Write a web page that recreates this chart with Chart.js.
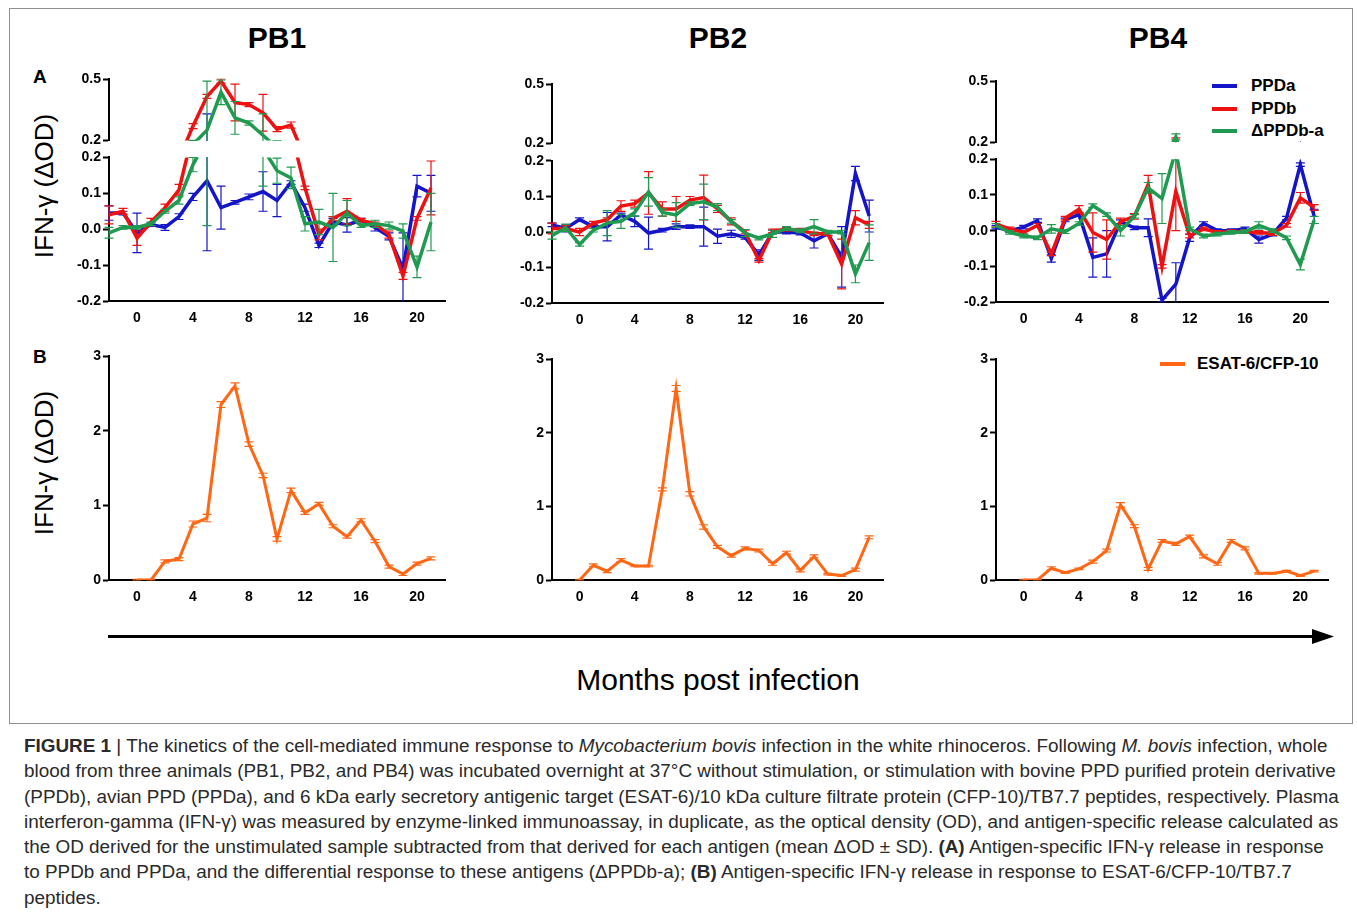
<!DOCTYPE html>
<html>
<head>
<meta charset="utf-8">
<script src="https://cdn.jsdelivr.net/npm/chart.js@4.4.1/dist/chart.umd.min.js"></script>
<style>
  body { margin: 0; background: #fff; width: 1357px; height: 914px; position: relative; overflow: hidden;
         font-family: "Liberation Sans", Arial, sans-serif; color: #000; }
  .abs { position: absolute; white-space: nowrap; }
  .frame { left: 9px; top: 8px; width: 1342px; height: 714px; border: 1px solid #8f8f8f; }
  .title { font-weight: bold; font-size: 30px; transform: translate(-50%, -50%); }
  .letter { font-weight: bold; font-size: 19px; transform: translateY(-50%); }
  .ytitle { font-size: 26px; transform: translate(-50%, -50%) rotate(-90deg); }
  .leg { font-weight: bold; font-size: 17px; transform: translateY(-50%); }
  .legline { height: 4px; width: 25px; transform: translateY(-50%); }
  .xlabel { font-size: 30px; transform: translate(-50%, -50%); }
  .caption { left: 24px; top: 733px; font-size: 18.9px; line-height: 25.3px; color: #2a2a2a; }
  .caption div { white-space: nowrap; }
</style>
</head>
<body>
<div class="abs frame"></div>
<div class="abs title" style="left:277px;top:38px">PB1</div>
<div class="abs title" style="left:718px;top:38px">PB2</div>
<div class="abs title" style="left:1158px;top:38px">PB4</div>
<div class="abs letter" style="left:33px;top:77px">A</div>
<div class="abs letter" style="left:33px;top:357px">B</div>
<div class="abs ytitle" style="left:44px;top:186px">IFN-γ (ΔOD)</div>
<div class="abs ytitle" style="left:44px;top:463px">IFN-γ (ΔOD)</div>

<div class="abs legline" style="left:1212px;top:86px;background:#1414c8"></div>
<div class="abs leg" style="left:1251px;top:86px">PPDa</div>
<div class="abs legline" style="left:1212px;top:109px;background:#ee1111"></div>
<div class="abs leg" style="left:1251px;top:109px">PPDb</div>
<div class="abs legline" style="left:1212px;top:131px;background:#1f9a50"></div>
<div class="abs leg" style="left:1251px;top:131px">ΔPPDb-a</div>
<div class="abs legline" style="left:1160px;top:364px;background:#ff6714"></div>
<div class="abs leg" style="left:1197px;top:364px">ESAT-6/CFP-10</div>

<svg class="abs" style="left:0;top:0" width="1357" height="914">
  <line x1="108" y1="636.5" x2="1314" y2="636.5" stroke="#000" stroke-width="3"/>
  <polygon points="1312,629 1334,636.5 1312,644" fill="#000"/>
</svg>
<div class="abs xlabel" style="left:718px;top:680px">Months post infection</div>

<div class="abs caption">
  <div><b>FIGURE 1</b> | The kinetics of the cell-mediated immune response to <i>Mycobacterium bovis</i> infection in the white rhinoceros. Following <i>M. bovis</i> infection, whole</div>
  <div>blood from three animals (PB1, PB2, and PB4) was incubated overnight at 37°C without stimulation, or stimulation with bovine PPD purified protein derivative</div>
  <div>(PPDb), avian PPD (PPDa), and 6 kDa early secretory antigenic target (ESAT-6)/10 kDa culture filtrate protein (CFP-10)/TB7.7 peptides, respectively. Plasma</div>
  <div>interferon-gamma (IFN-γ) was measured by enzyme-linked immunoassay, in duplicate, as the optical density (OD), and antigen-specific release calculated as</div>
  <div>the OD derived for the unstimulated sample subtracted from that derived for each antigen (mean ΔOD ± SD). <b>(A)</b> Antigen-specific IFN-γ release in response</div>
  <div>to PPDb and PPDa, and the differential response to these antigens (ΔPPDb-a); <b>(B)</b> Antigen-specific IFN-γ release in response to ESAT-6/CFP-10/TB7.7</div>
  <div>peptides.</div>
</div>

<script>
// months post infection
const monthsA = [-2, -1, 0, 1, 2, 3, 4, 5, 6, 7, 8, 9, 10, 11, 12, 13, 14, 15, 16, 17, 18, 19, 20, 21];
const monthsB = [0, 1, 2, 3, 4, 5, 6, 7, 8, 9, 10, 11, 12, 13, 14, 15, 16, 17, 18, 19, 20, 21];
const xTicks = [0, 4, 8, 12, 16, 20];
const lowTicks = [-0.2, -0.1, 0, 0.1, 0.2];
const highTicks = [0.2, 0.5];
const esatTicks = [0, 1, 2, 3];

// (A) PPDa / PPDb / delta, mean and SD
const pb1PPDa   = [0.045, 0.045, -0.01, 0.013, 0.005, 0.035, 0.09, 0.135, 0.06, 0.075, 0.09, 0.105, 0.08, 0.13, 0.06, -0.045, 0.02, 0.012, 0.025, 0.005, -0.02, -0.11, 0.12, 0.1];
const pb1PPDaSD = [0.02, 0.005, 0.055, 0.005, 0.008, 0.008, 0.01, 0.195, 0.06, 0.005, 0.008, 0.055, 0.045, 0.005, 0.01, 0.006, 0.01, 0.02, 0.005, 0.01, 0.01, 0.1, 0.03, 0.05];
const pb1PPDb   = [0.04, 0.05, -0.025, 0.02, 0.06, 0.11, 0.27, 0.415, 0.49, 0.385, 0.375, 0.335, 0.255, 0.275, 0.115, -0.015, 0.03, 0.05, 0.025, 0.015, -0.015, -0.13, 0.03, 0.115];
const pb1PPDbSD = [0.025, 0.008, 0.02, 0.01, 0.01, 0.015, 0.012, 0.01, 0.01, 0.09, 0.01, 0.09, 0.012, 0.015, 0.005, 0.015, 0.005, 0.035, 0.005, 0.005, 0.01, 0.01, 0.005, 0.075];
const pb1Delta   = [-0.01, 0.005, 0.005, 0.015, 0.05, 0.08, 0.18, 0.25, 0.435, 0.31, 0.285, 0.225, 0.163, 0.143, 0.015, 0.02, 0.005, 0.045, 0.01, 0.015, 0.01, -0.005, -0.105, 0.02];
const pb1DeltaSD = [0.015, 0.005, 0.005, 0.005, 0.005, 0.01, 0.02, 0.24, 0.06, 0.08, 0.01, 0.105, 0.035, 0.03, 0.02, 0.035, 0.095, 0.035, 0.005, 0.01, 0.01, 0.02, 0.03, 0.08];

const pb2PPDa   = [0.02, 0.01, 0.035, 0.015, 0.015, 0.048, 0.03, -0.003, 0.005, 0.015, 0.015, 0.015, -0.012, -0.005, -0.015, -0.065, 0.0, 0.0, -0.003, -0.025, -0.005, -0.07, 0.165, 0.045];
const pb2PPDaSD = [0.005, 0.01, 0.005, 0.005, 0.04, 0.005, 0.015, 0.045, 0.005, 0.008, 0.005, 0.055, 0.02, 0.01, 0.005, 0.015, 0.005, 0.005, 0.005, 0.02, 0.005, 0.085, 0.02, 0.045];
const pb2PPDb   = [0.01, 0.01, 0.0, 0.025, 0.035, 0.073, 0.08, 0.11, 0.065, 0.065, 0.09, 0.097, 0.065, 0.03, 0.0, -0.08, 0.003, 0.008, 0.005, -0.005, -0.005, -0.09, 0.04, 0.02];
const pb2PPDbSD = [0.015, 0.008, 0.01, 0.005, 0.005, 0.015, 0.01, 0.06, 0.02, 0.035, 0.01, 0.063, 0.01, 0.01, 0.005, 0.005, 0.005, 0.005, 0.005, 0.005, 0.005, 0.07, 0.02, 0.01];
const pb2Delta   = [-0.01, 0.012, -0.035, 0.005, 0.025, 0.03, 0.055, 0.113, 0.055, 0.048, 0.08, 0.085, 0.07, 0.03, -0.003, -0.017, -0.005, 0.01, 0.003, 0.015, 0.0, 0.0, -0.118, -0.03];
const pb2DeltaSD = [0.01, 0.01, 0.005, 0.005, 0.035, 0.02, 0.01, 0.04, 0.01, 0.035, 0.005, 0.05, 0.01, 0.005, 0.01, 0.005, 0.01, 0.005, 0.005, 0.02, 0.005, 0.005, 0.025, 0.05];

const pb4PPDa   = [0.01, 0.0, 0.01, 0.028, -0.078, 0.03, 0.045, -0.075, -0.065, 0.025, 0.008, 0.008, -0.195, -0.15, -0.02, 0.02, 0.0, 0.0, 0.005, -0.025, -0.01, 0.035, 0.185, 0.04];
const pb4PPDaSD = [0.005, 0.005, 0.005, 0.005, 0.01, 0.005, 0.005, 0.055, 0.065, 0.005, 0.005, 0.025, 0.005, 0.06, 0.01, 0.005, 0.005, 0.005, 0.005, 0.01, 0.005, 0.005, 0.005, 0.02];
const pb4PPDb   = [0.018, 0.005, -0.005, 0.015, -0.065, 0.035, 0.06, -0.005, -0.025, 0.025, 0.04, 0.13, -0.1, 0.11, -0.015, 0.005, -0.005, -0.003, -0.003, -0.005, -0.008, 0.015, 0.092, 0.065];
const pb4PPDbSD = [0.008, 0.005, 0.005, 0.005, 0.005, 0.005, 0.01, 0.055, 0.055, 0.01, 0.008, 0.025, 0.005, 0.11, 0.005, 0.005, 0.005, 0.005, 0.005, 0.005, 0.005, 0.005, 0.015, 0.008];
const pb4Delta   = [0.015, -0.005, -0.015, -0.02, 0.005, -0.003, 0.02, 0.07, 0.045, 0.0, 0.04, 0.12, 0.09, 0.225, 0.005, -0.015, -0.01, -0.005, -0.003, 0.015, 0.0, -0.02, -0.095, 0.03];
const pb4DeltaSD = [0.005, 0.005, 0.005, 0.005, 0.012, 0.005, 0.005, 0.005, 0.005, 0.015, 0.005, 0.015, 0.07, 0.015, 0.005, 0.005, 0.005, 0.005, 0.005, 0.01, 0.005, 0.005, 0.015, 0.01];

// (B) ESAT-6/CFP-10, mean and SD
const pb1Esat   = [0, 0, 0.25, 0.28, 0.75, 0.83, 2.35, 2.6, 1.82, 1.4, 0.55, 1.2, 0.9, 1.02, 0.72, 0.58, 0.8, 0.52, 0.18, 0.08, 0.22, 0.29];
const pb1EsatSD = [0.01, 0.01, 0.02, 0.02, 0.04, 0.05, 0.04, 0.04, 0.03, 0.03, 0.03, 0.03, 0.02, 0.02, 0.02, 0.02, 0.02, 0.02, 0.02, 0.02, 0.02, 0.02];
const pb2Esat   = [0, 0.2, 0.12, 0.27, 0.19, 0.19, 1.23, 2.6, 1.17, 0.72, 0.45, 0.33, 0.43, 0.4, 0.22, 0.37, 0.13, 0.32, 0.08, 0.06, 0.14, 0.58];
const pb2EsatSD = [0.01, 0.02, 0.02, 0.02, 0.01, 0.01, 0.02, 0.04, 0.03, 0.03, 0.02, 0.02, 0.02, 0.02, 0.02, 0.02, 0.02, 0.02, 0.01, 0.01, 0.02, 0.02];
const pb4Esat   = [0, 0, 0.16, 0.1, 0.15, 0.25, 0.4, 1.02, 0.73, 0.15, 0.53, 0.49, 0.59, 0.32, 0.22, 0.53, 0.43, 0.09, 0.09, 0.12, 0.06, 0.12];
const pb4EsatSD = [0.01, 0.01, 0.02, 0.01, 0.01, 0.02, 0.02, 0.03, 0.02, 0.02, 0.02, 0.02, 0.02, 0.02, 0.02, 0.02, 0.02, 0.01, 0.01, 0.01, 0.01, 0.01];

const BLUE = '#1414c8', RED = '#ee1111', GREEN = '#1f9a50', ORANGE = '#ff6714';
const FONT = '"Liberation Sans", Arial, sans-serif';
const tickFont = { family: FONT, size: 14, weight: 'bold' };

// clip each dataset to its own y segment (broken axis) and draw SD bars under the line
const segments = {
  id: 'segments',
  beforeDatasetDraw(chart, args) {
    const ctx = chart.ctx, area = chart.chartArea;
    const ys = chart.scales[args.meta.yAxisID];
    const ds = chart.data.datasets[args.index];
    ctx.save();
    ctx.beginPath();
    ctx.rect(area.left - 8, ys.top - 0.5, area.right - area.left + 16, ys.bottom - ys.top + 1);
    ctx.clip();
    if (!ds.err) return;
    ctx.strokeStyle = ds.borderColor;
    ctx.lineWidth = 1.2;
    args.meta.data.forEach((pt, i) => {
      const v = ds.data[i].y, e = ds.err[i];
      const y1 = ys.getPixelForValue(v - e), y2 = ys.getPixelForValue(v + e);
      ctx.beginPath();
      ctx.moveTo(pt.x, y1); ctx.lineTo(pt.x, y2);
      ctx.moveTo(pt.x - 4.5, y1); ctx.lineTo(pt.x + 4.5, y1);
      ctx.moveTo(pt.x - 4.5, y2); ctx.lineTo(pt.x + 4.5, y2);
      ctx.stroke();
    });
  },
  afterDatasetDraw(chart) {
    chart.ctx.restore();
  }
};

function addCanvas(left, top, w, h) {
  const c = document.createElement('canvas');
  c.width = w; c.height = h;
  c.style.cssText = 'position:absolute;left:' + left + 'px;top:' + top + 'px;width:' + w + 'px;height:' + h + 'px';
  document.body.appendChild(c);
  return c;
}

function toPoints(xs, ys) {
  return xs.map((x, i) => ({ x: x, y: ys[i] }));
}

function xScale() {
  return {
    type: 'linear', min: -2, max: 22,
    afterBuildTicks: s => { s.ticks = xTicks.map(v => ({ value: v })); },
    afterFit: s => { s.height = 36; },
    grid: { display: false, drawTicks: false },
    border: { display: true, color: '#000', width: 2 },
    ticks: { padding: 9, color: '#000', font: tickFont }
  };
}

function yScale(min, max, ticks, weight, fmt) {
  return {
    axis: 'y', type: 'linear', position: 'left', min: min, max: max,
    stack: 'left', stackWeight: weight,
    afterBuildTicks: s => { s.ticks = ticks.map(v => ({ value: v })); },
    afterFit: s => { s.width = 70; },
    grid: { drawOnChartArea: false, drawTicks: true, tickLength: 6, tickWidth: 2, tickColor: '#000' },
    border: { display: true, color: '#000', width: 2 },
    ticks: { padding: 2, color: '#000', font: tickFont, callback: fmt }
  };
}

const common = {
  responsive: false,
  animation: false,
  events: [],
  plugins: { legend: { display: false }, tooltip: { enabled: false } },
  elements: { point: { radius: 0 }, line: { borderWidth: 3.5, tension: 0, borderJoinStyle: 'miter' } }
};

// panel A: broken y axis (0.2-0.5 above, -0.2-0.2 below)
// left stacked scales are laid out last-defined on top
function topPanel(p, series) {
  const hiH = p.breakHi - p.top, gapH = p.breakLo - p.breakHi, loH = p.bottom - p.breakLo;
  const canvas = addCanvas(p.axisX - 70, p.top - 15, p.right - p.axisX + 82, p.bottom - p.top + 51);
  const datasets = [];
  series.forEach(s => {
    ['y', 'yHi'].forEach(axisId => {
      datasets.push({
        label: s.label, data: toPoints(monthsA, s.values), err: s.sd,
        borderColor: s.color, yAxisID: axisId, order: s.order
      });
    });
  });
  new Chart(canvas, {
    type: 'line',
    data: { datasets: datasets },
    options: Object.assign({}, common, {
      layout: { padding: { top: 15, right: 12, left: 0, bottom: 0 } },
      scales: {
        x: xScale(),
        y: yScale(-0.2, 0.2, lowTicks, loH, v => v.toFixed(1)),
        yGap: {
          axis: 'y', type: 'linear', position: 'left', stack: 'left', stackWeight: gapH,
          afterFit: s => { s.width = 70; },
          grid: { display: false }, border: { display: false }, ticks: { display: false }
        },
        yHi: yScale(0.2, 0.5, highTicks, hiH, v => v.toFixed(1))
      }
    }),
    plugins: [segments]
  });
}

// panel B: ESAT-6/CFP-10
function bottomPanel(p, values, sd) {
  const canvas = addCanvas(p.axisX - 70, p.top - 15, p.right - p.axisX + 82, p.bottom - p.top + 51);
  new Chart(canvas, {
    type: 'line',
    data: {
      datasets: [{
        label: 'ESAT-6/CFP-10', data: toPoints(monthsB, values), err: sd,
        borderColor: ORANGE, yAxisID: 'y', borderWidth: 3
      }]
    },
    options: Object.assign({}, common, {
      layout: { padding: { top: 15, right: 12, left: 0, bottom: 0 } },
      scales: {
        x: xScale(),
        y: yScale(0, 3, esatTicks, 1, v => String(v))
      }
    }),
    plugins: [segments]
  });
}

topPanel({ axisX: 109, right: 445, top: 79.3, breakHi: 140.7, breakLo: 157.7, bottom: 301.3 }, [
  { label: 'PPDa', values: pb1PPDa, sd: pb1PPDaSD, color: BLUE, order: 3 },
  { label: 'PPDb', values: pb1PPDb, sd: pb1PPDbSD, color: RED, order: 2 },
  { label: 'ΔPPDb-a', values: pb1Delta, sd: pb1DeltaSD, color: GREEN, order: 1 }
]);
topPanel({ axisX: 552, right: 883, top: 83.7, breakHi: 143.3, breakLo: 160.7, bottom: 302.7 }, [
  { label: 'PPDa', values: pb2PPDa, sd: pb2PPDaSD, color: BLUE, order: 3 },
  { label: 'PPDb', values: pb2PPDb, sd: pb2PPDbSD, color: RED, order: 2 },
  { label: 'ΔPPDb-a', values: pb2Delta, sd: pb2DeltaSD, color: GREEN, order: 1 }
]);
topPanel({ axisX: 996, right: 1328, top: 81, breakHi: 142, breakLo: 159.3, bottom: 302 }, [
  { label: 'PPDa', values: pb4PPDa, sd: pb4PPDaSD, color: BLUE, order: 3 },
  { label: 'PPDb', values: pb4PPDb, sd: pb4PPDbSD, color: RED, order: 2 },
  { label: 'ΔPPDb-a', values: pb4Delta, sd: pb4DeltaSD, color: GREEN, order: 1 }
]);

bottomPanel({ axisX: 109, right: 445, top: 356, bottom: 580 }, pb1Esat, pb1EsatSD);
bottomPanel({ axisX: 552, right: 883, top: 359, bottom: 580 }, pb2Esat, pb2EsatSD);
bottomPanel({ axisX: 996, right: 1328, top: 359, bottom: 580 }, pb4Esat, pb4EsatSD);
</script>
</body>
</html>
